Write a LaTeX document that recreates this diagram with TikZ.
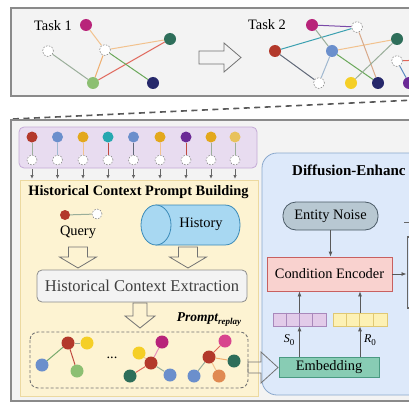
\documentclass[tikz,border=0pt]{standalone}
\usepackage{fontspec}
\setmainfont{Liberation Serif}
\usetikzlibrary{shapes.geometric,arrows.meta}
\definecolor{cRed}{HTML}{B3392B}
\definecolor{cBlue}{HTML}{6B8FCC}
\definecolor{cGold}{HTML}{E3A81C}
\definecolor{cTeal}{HTML}{26A8B0}
\definecolor{cPurple}{HTML}{6B2A96}
\definecolor{cLGold}{HTML}{E8C25C}
\definecolor{cMag}{HTML}{B8247A}
\definecolor{cPink}{HTML}{D8458E}
\definecolor{cDkGreen}{HTML}{2E6E5A}
\definecolor{cLtGreen}{HTML}{8CBF72}
\definecolor{cNavy}{HTML}{26286B}
\definecolor{cYellow}{HTML}{F5CF26}
\definecolor{cOrange}{HTML}{E08A52}
\definecolor{eGG}{HTML}{9AAE9A}
\definecolor{eLO}{HTML}{F2C28E}
\definecolor{eOr}{HTML}{EFAE6E}
\definecolor{eRed}{HTML}{E0665A}
\definecolor{eGrn}{HTML}{6AA85A}
\definecolor{ePur}{HTML}{7A4AA8}
\definecolor{eTeal}{HTML}{3AA0B0}
\definecolor{eLB}{HTML}{A0B8D0}
\definecolor{eGray}{HTML}{606878}
\definecolor{eBrn}{HTML}{D8A888}
\definecolor{eBlue}{HTML}{5A8AC0}
\definecolor{eDR}{HTML}{C04A40}
\definecolor{panelF}{HTML}{F3F3F3}
\definecolor{panelD}{HTML}{8A8A8A}
\definecolor{stripF}{HTML}{E8DCF0}
\definecolor{stripD}{HTML}{C4AAD6}
\definecolor{yF}{HTML}{FDF3D2}
\definecolor{yD}{HTML}{ECD9A0}
\definecolor{bF}{HTML}{DDE9FA}
\definecolor{bD}{HTML}{8AA8CC}
\definecolor{cylF}{HTML}{A8D8F2}
\definecolor{cylD}{HTML}{3A8AB8}
\definecolor{noiseF}{HTML}{B8C8D2}
\definecolor{noiseD}{HTML}{4A5A66}
\definecolor{encF}{HTML}{F9D2CF}
\definecolor{encD}{HTML}{C86060}
\definecolor{embF}{HTML}{88CCB4}
\definecolor{embD}{HTML}{4A9A82}
\definecolor{vpF}{HTML}{E2CBE9}
\definecolor{vpD}{HTML}{A888BB}
\definecolor{vyF}{HTML}{FDF1B4}
\definecolor{vyD}{HTML}{E0C872}
\newcommand\subz[2]{\textit{#1}\raisebox{-2.5pt}{\fontsize{9}{9}\selectfont 0}}
\begin{document}
\begin{tikzpicture}[x=1pt,y=-1pt,font=\fontsize{14.4}{16}\selectfont,
  dot/.style={circle,inner sep=0pt,minimum size=12pt},
  sdot/.style={circle,inner sep=0pt,minimum size=11pt},
  gdot/.style={circle,inner sep=0pt,minimum size=13pt},
  hol/.style={circle,inner sep=0pt,minimum size=11pt,draw=black!45,dash pattern=on 1.6pt off 1.4pt,fill=white,line width=0.6pt},
  ed/.style={line width=1pt},
  harrow/.style={draw=black!55,line width=0.8pt,line join=miter},
  sarrow/.style={draw=black!60,line width=0.8pt,-{Latex[length=4pt,width=3.5pt]}},
  farrow/.style={draw=black!65,line width=0.8pt,-{Latex[length=5pt,width=4pt]}}]
\clip (0,0) rectangle (409,409);
\fill[white] (0,0) rectangle (409,409);
% ---------- top panel ----------
\draw[fill=panelF,draw=panelD,line width=1.2pt] (11,8) rectangle (430,96);
\node (t1) at (53,26) {Task 1};
\node[dot,fill=cMag] (m1) at (86,25) {};
\node[hol] (h1) at (48,51) {};
\node[hol] (h2) at (105,50) {};
\node[dot,fill=cDkGreen] (dg1) at (170,39) {};
\node[dot,fill=cLtGreen] (lg1) at (93,83) {};
\node[dot,fill=cNavy] (nv1) at (153,83) {};
\draw[ed,eLO] (m1) -- (h2);
\draw[ed,eLO] (h2) -- (dg1);
\draw[ed,eGG] (h1) -- (lg1);
\draw[ed,eOr] (h2) -- (lg1);
\draw[ed,eRed] (lg1) -- (dg1);
\draw[ed,eGrn] (h2) -- (nv1);
\draw[harrow] (199,51) -- (224,51) -- (224,43) -- (241,57.5) -- (224,72) -- (224,64) -- (199,64) -- cycle;
\node (t2) at (267,25) {Task 2};
\node[dot,fill=cMag] (m2) at (312,25) {};
\node[hol] (h3) at (357,27) {};
\node[dot,fill=cRed] (r2) at (275,51) {};
\node[dot,fill=cBlue] (b2) at (332,51) {};
\node[dot,fill=cDkGreen] (dg2) at (397,39) {};
\node[hol] (h4) at (319,83) {};
\node[dot,fill=cYellow] (y2) at (351,83) {};
\node[dot,fill=cNavy] (nv2) at (378,83) {};
\node[hol] (h5) at (397,61) {};
\node[dot,fill=cPurple] (pu2) at (409,83) {};
\coordinate (off) at (420,60);
\draw[ed,ePur] (m2) -- (h3);
\draw[ed,eTeal] (r2) -- (h3);
\draw[ed,eGG] (m2) -- (b2);
\draw[ed,eLO] (b2) -- (dg2);
\draw[ed,eLB] (b2) -- (h4);
\draw[ed,eGrn] (b2) -- (nv2);
\draw[ed,eGray] (r2) -- (h4);
\draw[ed,eBrn] (h3) -- (nv2);
\draw[ed,eGG] (y2) -- (dg2);
\draw[ed,eBlue] (h5) -- (pu2);
\draw[ed,eRed] (h5) -- (off);
% ---------- dashed zoom line ----------
\draw[draw=black!65,line width=1.6pt,dash pattern=on 6pt off 4.5pt] (13,119) -- (415,100);
% ---------- bottom panel ----------
\draw[fill=panelF,draw=panelD,line width=1.2pt] (11,120) rectangle (430,401);
\draw[fill=stripF,draw=stripD,rounded corners=5pt,line width=0.8pt] (19,127) rectangle (257,168);
\draw[fill=yF,draw=yD,line width=0.8pt] (20,180) rectangle (258,396);
\foreach \x/\c/\l [count=\i] in {32/cRed/eGG,57.5/cBlue/eLB,83/cGold/eLO,108/cTeal/eDR,133.5/cBlue/eGray,160/cGold/eLO,186/cPurple/eDR,211/cGold/eGG,235/cLGold/eGG}{
  \node[sdot,fill=\c] (s\i) at (\x,137) {};
  \node[hol,minimum size=10pt] (sh\i) at (\x,160) {};
  \draw[\l,line width=1pt] (s\i) -- (sh\i);
  \coordinate (sa\i) at (\x,179);
  \draw[sarrow] ([yshift=-4pt]sh\i.south) -- (sa\i);
}
\node[font=\fontsize{14.4}{16}\selectfont\bfseries] (hcpb) at (138.5,192) {Historical Context Prompt Building};
% query
\node[sdot,fill=cRed,minimum size=10pt] (qn) at (65,215) {};
\node[hol,minimum size=10pt] (qh) at (97,214) {};
\draw[ed,eGG] (qn) -- (qh);
\node (qt) at (78,232) {Query};
% history cylinder
\draw[fill=cylF,draw=cylD,line width=0.8pt] (156,205) -- (225,205) .. controls (245,205) and (245,245) .. (225,245) -- (156,245) -- cycle;
\draw[fill=cylF,draw=cylD,line width=0.8pt] (156,225) ellipse [x radius=15,y radius=20];
\node (histt) at (201,224) {History};
\draw[harrow] (68.5,247) -- (87.5,247) -- (87.5,257) -- (96.5,257) -- (78,268) -- (59.5,257) -- (68.5,257) -- cycle;
\draw[harrow] (178.5,247) -- (197.5,247) -- (197.5,257) -- (206.5,257) -- (188,268) -- (169.5,257) -- (178.5,257) -- cycle;
\node[draw=black!45,fill=panelF,rounded corners=5pt,minimum width=210pt,minimum height=32pt,inner sep=0pt,text=black!75,font=\fontsize{16.5}{18}\selectfont,line width=0.8pt] (hce) at (142,286) {Historical Context Extraction};
\draw[harrow] (133,303) -- (147,303) -- (147,316) -- (155,316) -- (140,328) -- (125,316) -- (133,316) -- cycle;
\node[font=\fontsize{13.5}{15}\selectfont\bfseries\itshape] (pr) at (209,320) {Prompt\raisebox{-3pt}{\fontsize{9}{9}\selectfont replay}};
\draw[draw=black!55,rounded corners=8pt,dash pattern=on 3pt off 2pt,line width=0.9pt] (30,332) rectangle (248,388);
% graph 1
\node[gdot,fill=cRed] (g1r) at (68,343) {};
\node[gdot,fill=cYellow] (g1y) at (87,343) {};
\node[gdot,fill=cBlue] (g1b) at (42,365) {};
\node[gdot,fill=cLtGreen] (g1g) at (77,371) {};
\draw[ed,eGG] (g1r) -- (g1y);
\draw[ed,eGrn!70!eGG] (g1r) -- (g1b);
\draw[ed,eDR] (g1r) -- (g1g);
\node (dots) at (112,358) {...};
% graph 2
\node[gdot,fill=cMag] (g2m) at (162,342) {};
\node[gdot,fill=cYellow] (g2y) at (139,353) {};
\node[gdot,fill=cRed] (g2r) at (151,363) {};
\node[gdot,fill=cDkGreen] (g2d) at (130,376) {};
\node[gdot,fill=cBlue] (g2b) at (170,375) {};
\draw[ed,cPink!60] (g2r) -- (g2m);
\draw[ed,eLO] (g2r) -- (g2y);
\draw[ed,eRed] (g2r) -- (g2d);
\draw[ed,eGG] (g2r) -- (g2b);
% graph 3
\node[gdot,fill=cPink] (g3m) at (225,341) {};
\node[gdot,fill=cRed] (g3r) at (209,357) {};
\node[gdot,fill=cDkGreen] (g3d) at (234,361) {};
\node[gdot,fill=cBlue] (g3b) at (194,376) {};
\node[gdot,fill=cOrange] (g3o) at (219,376) {};
\draw[ed,eRed] (g3r) -- (g3m);
\draw[ed,eOr] (g3r) -- (g3d);
\draw[ed,eGG] (g3r) -- (g3b);
\draw[ed,eLO] (g3r) -- (g3o);
% ---------- diffusion panel ----------
\draw[fill=bF,draw=bD,rounded corners=15pt,line width=0.8pt] (262,153) rectangle (450,395);
\node[anchor=west,font=\fontsize{15}{16}\selectfont\bfseries,inner sep=0pt] (dt) at (292,170) {Diffusion-Enhanc};
\node[draw=noiseD,fill=noiseF,rounded corners=13pt,minimum width=95pt,minimum height=28pt,inner sep=0pt,line width=0.8pt] (noise) at (330.5,216) {Entity Noise};
\node[draw=encD,fill=encF,minimum width=125pt,minimum height=34pt,inner sep=0pt,line width=0.8pt] (enc) at (329.5,274) {Condition Encoder};
\draw[farrow] (noise.south) -- (noise.south |- enc.north);
\node[draw=black!60,fill=bF,line width=1.8pt,minimum width=30pt,minimum height=71pt,anchor=west] (gbox) at (406.5,272.5) {};
\draw[farrow] (enc.east) -- (gbox.west |- enc.east);
\coordinate (mk1) at (404,222);
\coordinate (mk2) at (410,222);
\draw[black!60,line width=0.8pt] (mk1) -- (mk2);
\node[draw=vpD,fill=vpF,minimum width=53pt,minimum height=13pt,inner sep=0pt,line width=0.7pt] (pv) at (299.5,319.5) {};
\node[draw=vyD,fill=vyF,minimum width=54pt,minimum height=13pt,inner sep=0pt,line width=0.7pt] (yv) at (360,319.5) {};
\foreach \k in {1,2,3}{
  \draw[vpD,line width=0.7pt] ([xshift=\k*13.25pt]pv.north west) -- ([xshift=\k*13.25pt]pv.south west);
  \draw[vyD,line width=0.7pt] ([xshift=\k*13.5pt]yv.north west) -- ([xshift=\k*13.5pt]yv.south west);
}
\node[draw=embD,fill=embF,minimum width=100pt,minimum height=20pt,inner sep=0pt,line width=0.8pt] (emb) at (329,367) {Embedding};
\draw[farrow] (pv.south |- emb.north) -- (pv.south);
\draw[farrow] (yv.south |- emb.north) -- (yv.south);
\draw[farrow] (pv.north) -- (pv.north |- enc.south);
\draw[farrow] (yv.north) -- (yv.north |- enc.south);
\node[font=\fontsize{12}{13}\selectfont] (s0) at (289,340) {\subz{S}{0}};
\node[font=\fontsize{12}{13}\selectfont] (r0) at (370,340) {\subz{R}{0}};
\draw[harrow] (248,362) -- (261,362) -- (261,352) -- (278,367.5) -- (261,383) -- (261,373) -- (248,373) -- cycle;
\end{tikzpicture}
\end{document}
